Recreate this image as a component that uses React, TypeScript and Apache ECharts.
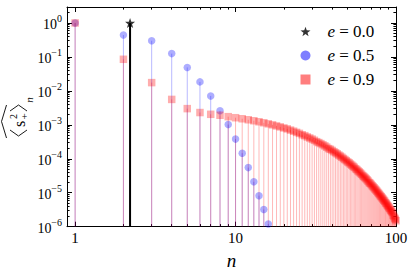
import React, { useEffect, useRef } from 'react';
import * as echarts from 'echarts';

// ---------- data ----------
const seriesNames = ['e = 0.0', 'e = 0.5', 'e = 0.9'];

const nE00 = [2.2];
const valuesE00 = [1.0];

const nE05 = [1, 2, 3, 4, 5, 6, 7, 8, 9, 10, 11, 12, 13, 14, 15, 16];
const valuesE05 = [
  1.0, 0.44, 0.30, 0.125, 0.049, 0.0184, 0.0071, 0.0026, 0.00102, 3.8e-4,
  1.46e-4, 5.5e-5, 2.1e-5, 8.2e-6, 3.2e-6, 1.2e-6,
];

const nE09 = Array.from({ length: 100 }, (_, i) => i + 1);
const valuesE09 = [
  1.0, 0.085, 0.0175, 0.0056, 0.0030, 0.0023, 2.04e-3, 1.91e-3, 1.74e-3, 1.62e-3,
  1.51e-3, 1.41e-3, 1.32e-3, 1.23e-3, 1.15e-3, 1.07e-3, 1.0e-3, 9.3e-4, 8.7e-4, 8.1e-4,
  7.6e-4, 7.0e-4, 6.5e-4, 6.0e-4, 5.6e-4, 5.1e-4, 4.8e-4, 4.4e-4, 4.1e-4, 3.8e-4,
  3.5e-4, 3.2e-4, 3.0e-4, 2.8e-4, 2.6e-4, 2.4e-4, 2.2e-4, 2.0e-4, 1.9e-4, 1.76e-4,
  1.62e-4, 1.51e-4, 1.40e-4, 1.29e-4, 1.20e-4, 1.11e-4, 1.02e-4, 9.5e-5, 8.8e-5, 8.1e-5,
  7.6e-5, 7.0e-5, 6.5e-5, 6.0e-5, 5.6e-5, 5.1e-5, 4.8e-5, 4.4e-5, 4.1e-5, 3.8e-5,
  3.5e-5, 3.2e-5, 3.0e-5, 2.8e-5, 2.6e-5, 2.4e-5, 2.2e-5, 2.0e-5, 1.9e-5, 1.76e-5,
  1.62e-5, 1.51e-5, 1.40e-5, 1.29e-5, 1.20e-5, 1.11e-5, 1.02e-5, 9.5e-6, 8.8e-6, 8.1e-6,
  7.6e-6, 7.0e-6, 6.5e-6, 6.0e-6, 5.6e-6, 5.1e-6, 4.8e-6, 4.4e-6, 4.1e-6, 3.8e-6,
  3.5e-6, 3.2e-6, 3.0e-6, 2.8e-6, 2.6e-6, 2.2e-6, 2.0e-6, 1.8e-6, 1.65e-6, 1.5e-6,
];

const xMajorTicks = [1, 10, 100];
const xTickLabels = ['1', '10', '100'];
const xMinorTicks = [2, 3, 4, 5, 6, 7, 8, 9, 20, 30, 40, 50, 60, 70, 80, 90];
const yMajorTicks = [1e-6, 1e-5, 1e-4, 1e-3, 1e-2, 1e-1, 1];
const yTickExponents = ['−6', '−5', '−4', '−3', '−2', '−1', '0'];
const yMinorMantissas = [2, 3, 4, 5, 6, 7, 8, 9];

const X_MIN = 0.89;
const X_MAX = 100;
const Y_MIN = 1e-6;
const Y_MAX = 2.95;

// ---------- helpers ----------
const FONT = '"Liberation Serif", "DejaVu Serif", serif';
const lg = (v: number) => Math.log10(v);
const toPts = (ns: number[], vs: number[]) => ns.map((n, i) => [lg(n), lg(vs[i])]);

const yMinorTicks: number[] = [];
yMajorTicks.forEach((d) => {
  yMinorMantissas.forEach((m) => {
    const v = m * d;
    if (v > Y_MIN && v < Y_MAX) yMinorTicks.push(v);
  });
});

const STAR =
  'path://M50,2 L61.8,35.9 L97.6,36.6 L69,58.3 L79.4,92.6 L50,72.1 L20.6,92.6 L31,58.3 L2.4,36.6 L38.2,35.9 Z';

const AX = '#000';

function stemSeries(data: number[][], color: string, width: number, z: number) {
  return {
    type: 'custom',
    data,
    clip: true,
    silent: true,
    z,
    xAxisIndex: 0,
    yAxisIndex: 0,
    renderItem: (_p: any, api: any) => {
      const top = api.coord([api.value(0), api.value(1)]);
      const bot = api.coord([api.value(0), lg(Y_MIN)]);
      return {
        type: 'line',
        shape: { x1: top[0], y1: top[1], x2: bot[0], y2: bot[1] },
        style: { stroke: color, lineWidth: width },
      };
    },
  };
}

function xAxis(position: 'top' | 'bottom', major: boolean) {
  const vals = (major ? xMajorTicks : xMinorTicks).map(lg);
  const showLabel = major && position === 'bottom';
  return {
    type: 'value',
    position,
    min: lg(X_MIN),
    max: lg(X_MAX),
    axisLine: { show: major, onZero: false, lineStyle: { color: AX, width: 1 } },
    axisTick: {
      show: true,
      inside: true,
      length: major ? 5 : 2.6,
      customValues: vals,
      lineStyle: { color: AX, width: 1 },
    },
    axisLabel: showLabel
      ? {
          show: true,
          customValues: vals,
          margin: 4,
          fontSize: 15,
          fontFamily: FONT,
          color: AX,
          formatter: (v: number) => {
            const i = xMajorTicks.findIndex((m) => Math.abs(lg(m) - v) < 1e-6);
            return i >= 0 ? xTickLabels[i] : '';
          },
        }
      : { show: false },
    splitLine: { show: false },
    ...(showLabel
      ? {
          name: 'n',
          nameLocation: 'middle',
          nameGap: 19,
          nameTextStyle: { fontStyle: 'italic', fontSize: 19, fontFamily: FONT, color: AX },
        }
      : {}),
  };
}

function yAxis(position: 'left' | 'right', major: boolean) {
  const vals = (major ? yMajorTicks : yMinorTicks).map(lg);
  const showLabel = major && position === 'left';
  return {
    type: 'value',
    position,
    min: lg(Y_MIN),
    max: lg(Y_MAX),
    axisLine: { show: major, onZero: false, lineStyle: { color: AX, width: 1 } },
    axisTick: {
      show: true,
      inside: true,
      length: major ? 5 : 2.6,
      customValues: vals,
      lineStyle: { color: AX, width: 1 },
    },
    axisLabel: showLabel
      ? {
          show: true,
          customValues: vals,
          margin: 5,
          color: AX,
          fontFamily: FONT,
          formatter: (v: number) => {
            const i = yMajorTicks.findIndex((m) => Math.abs(lg(m) - v) < 1e-6);
            return i >= 0 ? `{b|10}{s|${yTickExponents[i]}}` : '';
          },
          rich: {
            b: { fontSize: 14, fontFamily: FONT, color: AX, verticalAlign: 'bottom', lineHeight: 18 },
            s: { fontSize: 10, fontFamily: FONT, color: AX, verticalAlign: 'top', lineHeight: 18 },
          },
        }
      : { show: false },
    splitLine: { show: false },
  };
}

const TXT = '#000';
const yNameGraphic = {
  type: 'group',
  x: 18,
  y: 120,
  rotation: Math.PI / 2,
  silent: true,
  children: [
    { type: 'polyline', shape: { points: [[-10, -8], [-16, 0.5], [-10, 9]] }, style: { stroke: TXT, lineWidth: 0.9, fill: null } },
    { type: 'polyline', shape: { points: [[9, -8], [15, 0.5], [9, 9]] }, style: { stroke: TXT, lineWidth: 0.9, fill: null } },
    { type: 'polyline', shape: { points: [[-18, -11.5], [-1.5, -16.5], [15, -11.5]] }, style: { stroke: TXT, lineWidth: 0.9, fill: null } },
    { type: 'text', x: -4, y: 1, style: { text: 's', fontSize: 16, fontFamily: FONT, fill: TXT, align: 'center', verticalAlign: 'middle' } },
    { type: 'text', x: 3.5, y: -5, style: { text: '2', fontSize: 10, fontFamily: FONT, fill: TXT, align: 'center', verticalAlign: 'middle' } },
    { type: 'text', x: 3.5, y: 6, style: { text: '+', fontSize: 11, fontFamily: FONT, fill: TXT, align: 'center', verticalAlign: 'middle' } },
    { type: 'text', x: 20, y: 11, style: { text: 'n', fontSize: 11, fontStyle: 'italic', fontFamily: FONT, fill: TXT, align: 'center', verticalAlign: 'middle' } },
  ],
};

export default function App() {
  const ref = useRef<HTMLDivElement>(null);
  useEffect(() => {
    if (!ref.current) return;
    const chart = echarts.init(ref.current, null, { renderer: 'svg' });
    const pts00 = toPts(nE00, valuesE00);
    const pts05 = toPts(nE05, valuesE05);
    const pts09 = toPts(nE09, valuesE09);
    const option: any = {
      animation: false,
      backgroundColor: '#fff',
      grid: {
        left: 67,
        top: 7,
        right: 19,
        bottom: 47.3,
        containLabel: false,
        outerBoundsMode: 'none',
      },
      xAxis: [xAxis('bottom', true), xAxis('bottom', false), xAxis('top', true), xAxis('top', false)],
      yAxis: [yAxis('left', true), yAxis('left', false), yAxis('right', true), yAxis('right', false)],
      legend: {
        orient: 'vertical',
        left: 300.5,
        top: 21.5,
        padding: 0,
        itemGap: 4,
        itemWidth: 10,
        itemHeight: 10,
        selectedMode: false,
        formatter: (name: string) => `{g|}{i|e}{t|${name.slice(1)}}`,
        textStyle: {
          fontFamily: FONT,
          fontSize: 17,
          color: TXT,
          lineHeight: 20,
          rich: {
            g: { width: 12 },
            i: { fontStyle: 'italic', fontFamily: FONT, fontSize: 17, color: TXT, lineHeight: 20 },
            t: { fontFamily: FONT, fontSize: 17, color: TXT, lineHeight: 20 },
          },
        },
        data: [
          { name: seriesNames[0], icon: STAR, itemStyle: { color: '#000' } },
          { name: seriesNames[1], icon: 'circle', itemStyle: { color: 'rgba(40,40,255,0.75)' } },
          { name: seriesNames[2], icon: 'rect', itemStyle: { color: 'rgba(255,40,40,0.75)' } },
        ],
      },
      graphic: [yNameGraphic],
      series: [
        stemSeries(pts00, '#000', 2, 2),
        {
          type: 'scatter',
          name: seriesNames[0],
          data: pts00,
          symbol: STAR,
          symbolSize: 10,
          itemStyle: { color: '#000' },
          z: 3,
          silent: true,
        },
        stemSeries(pts05, 'rgba(0,0,255,0.28)', 1, 2),
        {
          type: 'scatter',
          name: seriesNames[1],
          data: pts05,
          symbol: 'circle',
          symbolSize: 7.5,
          itemStyle: { color: 'rgba(0,0,255,0.4)' },
          z: 3,
          silent: true,
        },
        stemSeries(pts09, 'rgba(255,0,0,0.28)', 1, 2),
        {
          type: 'scatter',
          name: seriesNames[2],
          data: pts09,
          symbol: 'rect',
          symbolSize: 7.5,
          itemStyle: { color: 'rgba(255,0,0,0.4)' },
          z: 3,
          silent: true,
        },
      ],
    };
    chart.setOption(option);
    return () => chart.dispose();
  }, []);
  return (
    <div
      ref={ref}
      style={{ position: 'fixed', left: 0, top: 0, width: 415, height: 274, background: '#fff' }}
    />
  );
}
